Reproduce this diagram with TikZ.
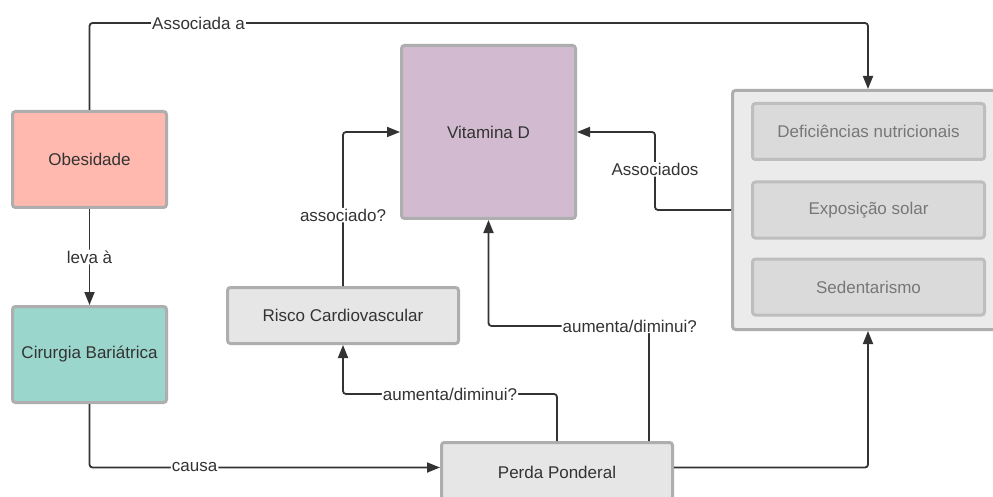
\documentclass[tikz,border=0pt]{standalone}
\usepackage{fontspec}
\setmainfont{Liberation Sans}
\usetikzlibrary{arrows.meta}
\definecolor{cobes}{HTML}{FFB9AF}
\definecolor{ccirur}{HTML}{9AD6CB}
\definecolor{cvitd}{HTML}{D2BBD1}
\definecolor{ccinza}{HTML}{E6E6E6}
\definecolor{cgrupo}{HTML}{EBEBEB}
\definecolor{cinterna}{HTML}{DADADA}
\definecolor{cborda}{HTML}{AEAEAE}
\definecolor{cbordaint}{HTML}{BEBEBE}
\definecolor{ctexto}{HTML}{333333}
\definecolor{ctextoint}{HTML}{777777}
\definecolor{clinha}{HTML}{333333}
\begin{document}
\begin{tikzpicture}[x=1pt,y=-1pt,
    caixa/.style={draw=cborda,line width=3pt,rounded corners=3pt,text=ctexto,
      font=\fontsize{17}{20}\selectfont,inner sep=0pt},
    interna/.style={caixa,fill=cinterna,draw=cbordaint,text=ctextoint,
      minimum width=232pt,minimum height=56pt},
    seta/.style={-{Triangle[length=13pt,width=10pt]},draw=clinha,line width=1.8pt,rounded corners=3pt},
    rotulo/.style={fill=white,text=ctexto,font=\fontsize{17}{20}\selectfont,inner sep=1pt}]
    \useasboundingbox[fill=white] (0,0) rectangle (993,497);
    \node[caixa,fill=cobes,minimum width=154pt,minimum height=96pt] (obesidade) at (89.5,159.5) {Obesidade};
    \node[caixa,fill=ccirur,minimum width=154pt,minimum height=96pt] (cirurgia) at (89.5,354.5) {Cirurgia Bariátrica};
    \node[caixa,fill=cvitd,minimum width=174pt,minimum height=173pt] (vitd) at (488.5,132) {Vitamina D};
    \node[caixa,fill=ccinza,minimum width=231pt,minimum height=56pt] (risco) at (343,315.5) {Risco Cardiovascular};
    \node[caixa,fill=ccinza,minimum width=231pt,minimum height=64pt] (perda) at (557,474.5) {\raisebox{4pt}{Perda Ponderal}};
    \node[caixa,fill=cgrupo,minimum width=271pt,minimum height=239pt] (grupo) at (868,210) {};
    \node[interna] (deficiencias) at (868.5,131.5) {Deficiências nutricionais};
    \node[interna] (exposicao) at (868.5,210) {Exposição solar};
    \node[interna] (sedentarismo) at (868.5,287) {Sedentarismo};
    \draw[seta] (obesidade.north) -- ++(0,-87) -| node[rotulo,pos=0.07] {Associada a} (grupo.north);
    \draw[seta] (obesidade) -- node[rotulo] {leva à} (cirurgia);
    \draw[seta] (cirurgia.south) |- node[rotulo,pos=0.65] {causa} ([yshift=7pt]perda.west);
    \draw[seta] (risco.north) |- node[rotulo,pos=0.23] {associado?} (vitd.west);
    \draw[seta] (grupo.west) -- ++(-76,0) |- node[rotulo,pos=0.26] {Associados} (vitd.east);
    \draw[seta] (perda.north) -- ++(0,-47) -| node[rotulo,pos=0.25] {aumenta/diminui?} (risco.south);
    \draw[seta] ([xshift=92pt]perda.north) -- ++(0,-115) -| node[rotulo,pos=0.06] {aumenta/diminui?} (vitd.south);
    \draw[seta] ([yshift=7pt]perda.east) -| (grupo.south);
\end{tikzpicture}
\end{document}
